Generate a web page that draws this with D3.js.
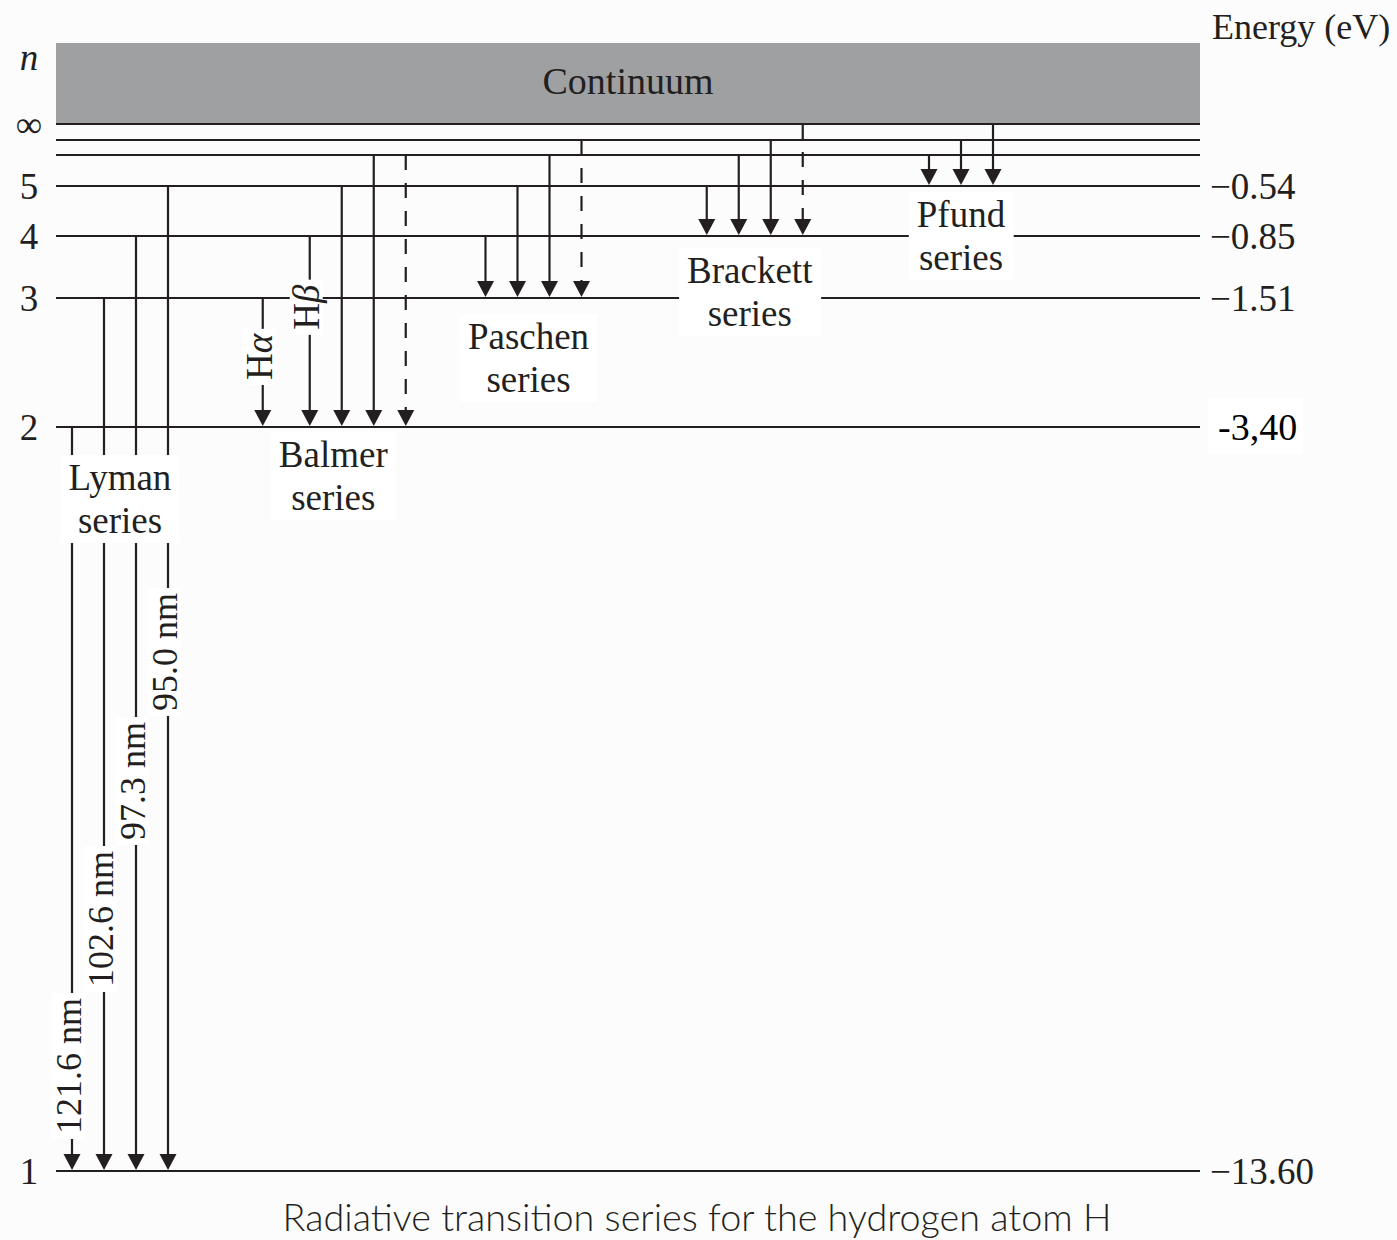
<!DOCTYPE html>
<html><head><meta charset="utf-8">
<script src="https://cdn.jsdelivr.net/npm/d3@7"></script>
<style>
html,body{margin:0;padding:0;background:#fcfcfc;}
svg{display:block;}
</style></head><body>
<svg id="c" width="1397" height="1240"></svg>
<script>
// ---------------- data ----------------
const levelN = [1, 2, 3, 4, 5, 6, 7, Infinity];
const levelEnergy = [-13.60, -3.40, -1.51, -0.85, -0.54, -0.38, -0.28, 0];
const levelNLabels = ["1", "2", "3", "4", "5", "", "", "∞"];
const levelEnergyLabels = ["−13.60", "-3,40", "−1.51", "−0.85", "−0.54", "", "", ""];

const seriesNames = ["Lyman", "Balmer", "Paschen", "Brackett", "Pfund"];
const seriesLower = [1, 2, 3, 4, 5];
const seriesUpper = [
  [2, 3, 4, 5],
  [3, 4, 5, 6, 6],
  [4, 5, 6, 7],
  [5, 6, 7, Infinity],
  [6, 7, Infinity]
];
const seriesDashed = [
  [false, false, false, false],
  [false, false, false, false, true],
  [false, false, false, true],
  [false, false, false, true],
  [false, false, false]
];
const lineLabels = [
  ["121.6 nm", "102.6 nm", "97.3 nm", "95.0 nm"],
  ["Hα", "Hβ", null, null, null],
  [], [], []
];
const titleText = "Radiative transition series for the hydrogen atom H";
const axisTitle = "Energy (eV)";
const continuumText = "Continuum";

// ---------------- layout ----------------
const W = 1397, H = 1240;
const X0 = 56, X1 = 1200;
const ink = "#231f20";
const serif = "'Liberation Serif','Times New Roman',serif";
const svg = d3.select("#c");
svg.append("rect").attr("width", W).attr("height", H).attr("fill", "#fcfcfc");

const energyOf = n => levelEnergy[levelN.indexOf(n)];
const y = d3.scaleLinear().domain(levelEnergy).range([1171, 427, 298, 236, 186, 155, 140, 124]);
const xs = d3.scalePoint().domain(seriesNames).range([120, 961]);
const step = 32;
const extraGap = { Balmer: [15, 0, 0, 0] };
const groupDx = { Lyman: 0, Balmer: 4, Paschen: -7, Brackett: 4, Pfund: 0 };
const labelLevel = { Lyman: 2, Balmer: 2, Paschen: 3, Brackett: 4, Pfund: 5 };
const labelDy = { Lyman: 63, Balmer: 40, Paschen: 51, Brackett: 47, Pfund: 41 };
const labelDx = { Lyman: 0, Balmer: -1, Paschen: -5, Brackett: -5, Pfund: 0 };
const stackCfg = { Lyman: { offset: 37, gap: 11, size: 36 }, Balmer: { offset: 47, gap: 4, size: 37 } };

function arrowXs(si) {
  const name = seriesNames[si], k = seriesUpper[si].length;
  const gaps = extraGap[name] || [];
  const offs = [0];
  for (let i = 1; i < k; i++) offs.push(offs[i - 1] + step + (gaps[i - 1] || 0));
  const c = xs(name) + groupDx[name], w = offs[k - 1];
  return offs.map(o => c - w / 2 + o);
}

// continuum
svg.append("rect").attr("x", X0).attr("y", 43).attr("width", X1 - X0).attr("height", y(0) - 43)
  .attr("fill", "#9fa0a2");
svg.append("text").attr("x", (X0 + X1) / 2).attr("y", 94).attr("text-anchor", "middle")
  .attr("font-family", serif).attr("font-size", 38).attr("fill", ink).text(continuumText);

// level lines
const gLevels = svg.append("g");
gLevels.selectAll("line").data(levelEnergy).join("line")
  .attr("x1", X0).attr("x2", X1).attr("y1", d => y(d)).attr("y2", d => y(d))
  .attr("stroke", ink).attr("stroke-width", 2.2);

// left n labels
svg.append("text").attr("x", 29).attr("y", 70).attr("text-anchor", "middle")
  .attr("font-family", serif).attr("font-style", "italic").attr("font-size", 37).attr("fill", ink).text("n");
svg.append("g").selectAll("text").data(levelEnergy.map((e, i) => ({ e, t: levelNLabels[i] })).filter(d => d.t))
  .join("text").attr("x", 29).attr("y", d => y(d.e)).attr("dy", "0.35em").attr("text-anchor", "middle")
  .attr("font-family", serif).attr("font-size", 37).attr("fill", ink).text(d => d.t);

// right energy labels
svg.append("text").attr("x", 1212).attr("y", 39).attr("font-family", serif).attr("font-size", 36)
  .attr("fill", ink).text(axisTitle);
const eLab = svg.append("g").selectAll("g").data(levelEnergy.map((e, i) => ({ e, t: levelEnergyLabels[i] })).filter(d => d.t))
  .join("g");
eLab.each(function (d) {
  const g = d3.select(this);
  const special = d.t.indexOf(",") >= 0;
  const t = g.append("text").attr("x", special ? 1218 : 1210).attr("y", y(d.e)).attr("dy", "0.35em")
    .attr("font-family", serif).attr("font-size", special ? 38 : 37)
    .attr("fill", special ? "#000" : ink).text(d.t);
  if (special) {
    const b = t.node().getBBox();
    g.insert("rect", "text").attr("x", b.x - 10).attr("y", b.y - 8).attr("width", b.width + 16)
      .attr("height", b.height + 14).attr("fill", "#ffffff");
  }
});

// transitions
const gLines = svg.append("g"), gLabels = svg.append("g"), gHeads = svg.append("g");
const headH = 17, headW = 17;
seriesNames.forEach((name, si) => {
  const xArr = arrowXs(si);
  const yLow = y(energyOf(seriesLower[si]));
  seriesUpper[si].forEach((up, i) => {
    const x = xArr[i];
    gLines.append("line").attr("x1", x).attr("x2", x)
      .attr("y1", y(energyOf(up))).attr("y2", yLow - headH + 3)
      .attr("stroke", ink).attr("stroke-width", 2.2)
      .attr("stroke-dasharray", seriesDashed[si][i] ? "15,13" : null);
    gHeads.append("path")
      .attr("d", `M${x - headW / 2},${yLow - headH}L${x + headW / 2},${yLow - headH}L${x},${yLow - 1}Z`)
      .attr("fill", ink);
  });
  // rotated line labels, stacked upward
  const labs = lineLabels[si];
  if (labs && labs.length) {
    const cfg = stackCfg[name];
    let bottom = yLow - cfg.offset;
    labs.forEach((lab, i) => {
      if (!lab) return;
      const x = xArr[i];
      const g = gLabels.append("g");
      const t = g.append("text").attr("text-anchor", "middle")
        .attr("font-family", serif).attr("font-size", cfg.size).attr("fill", ink);
      if (name === "Balmer") {
        t.append("tspan").text(lab[0]);
        t.append("tspan").attr("font-style", "italic").text(lab.slice(1));
      } else t.text(lab);
      const L = t.node().getComputedTextLength();
      const cy = bottom - L / 2;
      g.attr("transform", `translate(${x + 9},${cy}) rotate(-90)`);
      g.insert("rect", "text").attr("x", -L / 2 - 5).attr("y", -29).attr("width", L + 10)
        .attr("height", 33).attr("fill", "#ffffff");
      bottom = cy - L / 2 - cfg.gap;
    });
  }
  // series label
  const g = gLabels.append("g");
  const cx = (xArr[0] + xArr[xArr.length - 1]) / 2 + labelDx[name];
  const by = y(energyOf(labelLevel[name])) + labelDy[name];
  const t = g.append("text").attr("text-anchor", "middle").attr("font-family", serif)
    .attr("font-size", 37).attr("fill", ink);
  t.append("tspan").attr("x", cx).attr("y", by).text(name);
  t.append("tspan").attr("x", cx).attr("y", by + 43).text("series");
  const b = t.node().getBBox();
  g.insert("rect", "text").attr("x", b.x - 8).attr("y", b.y - 2).attr("width", b.width + 16)
    .attr("height", b.height + 4).attr("fill", "#ffffff");
});

// title
const title = svg.append("text").attr("x", 697).attr("y", 1231).attr("text-anchor", "middle")
  .attr("font-family", "Lato, 'Open Sans', sans-serif").attr("font-weight", 300)
  .attr("font-size", 36).attr("fill", ink).text(titleText);
const tl = title.node().getComputedTextLength();
title.attr("font-size", 36 * 829 / tl);
</script>
</body></html>
